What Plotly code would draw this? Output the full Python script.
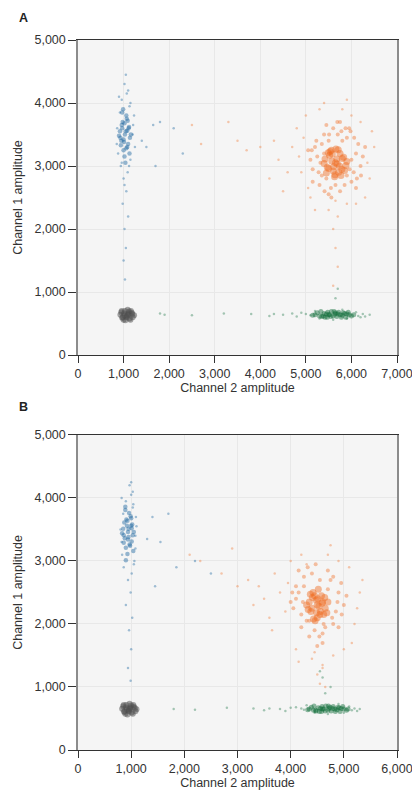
import plotly.graph_objects as go
from plotly.subplots import make_subplots

# ---------------- Panel A data (Channel 2 amplitude, Channel 1 amplitude) ----------------
a_orange_core_x = [5650, 5500, 5800, 5580, 5720, 5420, 5880, 5640, 5560, 5750, 5470, 5830, 5600, 5690, 5770, 5530, 5660, 5900, 5400, 5710, 5610, 5680, 5520, 5790, 5450, 5850, 5570, 5740, 5630, 5490]
a_orange_core_y = [3050, 2960, 3120, 3190, 2900, 3110, 3010, 2860, 3250, 3200, 2980, 3140, 2920, 3030, 2850, 3230, 3270, 3070, 3040, 3260, 2990, 3110, 3170, 2950, 2890, 2930, 3080, 3000, 2830, 3210]
a_orange_mid_x = [5200, 6100, 5300, 6000, 5900, 5400, 5150, 6200, 5750, 5500, 5950, 5350, 6050, 5250, 5850, 5600, 5450, 6150, 5100, 5700, 6250, 5550, 5800, 5350, 6000, 5650, 5400, 5900, 5500, 6100, 5050, 6300, 5750, 5450, 5150, 5980, 5320, 6120, 5870, 5230, 5560, 6060, 5410, 5780, 5960, 5280, 5690, 5130, 6210, 5510]
a_orange_mid_y = [3300, 3200, 2700, 2750, 3450, 3500, 2950, 3000, 2600, 2550, 3600, 3350, 2900, 3150, 2700, 3600, 2800, 3350, 3100, 3500, 3150, 2650, 3400, 2850, 3100, 2700, 3200, 2850, 3400, 2650, 3250, 3300, 3700, 3650, 2750, 3550, 3050, 2800, 3600, 3400, 2500, 3450, 2600, 3550, 2950, 2900, 3700, 3250, 2850, 3500]
a_orange_halo_x = [4700, 4900, 4800, 5000, 5300, 5800, 6200, 6500, 6400, 6300, 5900, 5500, 5100, 4600, 4400, 4300, 5700, 5600, 5650, 5700, 5600, 6000, 4500, 4950, 6350, 5200, 6100, 4200, 3700, 3500, 2700, 2500, 3300, 4000, 5650, 6450, 4850, 5400, 5900, 5050]
a_orange_halo_y = [3300, 2900, 3600, 3800, 3900, 3900, 3700, 3300, 2800, 2500, 2400, 2300, 2500, 2900, 3100, 3400, 2200, 2000, 1700, 1400, 1100, 3800, 2600, 3450, 3050, 2300, 2400, 2800, 3250, 3400, 3350, 3650, 3700, 3300, 2450, 3550, 3150, 4000, 4050, 2650]

a_blue_core_x = [1030, 950, 1110, 980, 1080, 920, 1140, 1000, 1060, 960, 1100, 1020, 990, 1070, 930, 1050, 1160, 970, 1010, 1090, 1040, 900, 1120, 1000, 1060, 940, 1080, 1020, 970, 1130]
a_blue_core_y = [3500, 3400, 3600, 3700, 3300, 3550, 3450, 3250, 3800, 3650, 3350, 3150, 3900, 3750, 3450, 3550, 3500, 3600, 3380, 3720, 3050, 3480, 3620, 3420, 3280, 3330, 3560, 3680, 3850, 3200]
a_blue_halo_x = [1150, 900, 1100, 1020, 1050, 860, 1200, 1230, 880, 1150, 940, 1090, 1000, 1060, 980, 1100, 1020, 1050, 1000, 1030, 1120, 920, 1210, 1130, 960, 1070, 1500, 1800, 1650, 2300, 2100, 1700, 1400, 1020, 960, 850, 1250]
a_blue_halo_y = [4000, 4100, 4200, 4300, 4450, 3600, 3500, 3800, 3200, 3100, 3000, 2900, 2800, 2600, 2400, 2200, 2000, 1700, 1500, 1200, 3000, 3850, 3650, 3950, 4050, 4150, 3300, 3700, 3650, 3200, 3600, 3000, 3400, 2700, 3050, 3350, 3300]

a_gray_x = [1080, 980, 1180, 1030, 1130, 930, 1230, 1000, 1160, 1060, 1110, 950, 1200, 1040, 1090, 1010, 1150, 970, 1070, 1120, 1020, 1190, 960, 1100]
a_gray_y = [635, 600, 670, 700, 580, 640, 630, 560, 700, 610, 660, 680, 600, 550, 720, 660, 560, 590, 600, 690, 630, 650, 700, 640]

a_green_core_x = [5200, 5300, 5400, 5500, 5600, 5700, 5800, 5900, 6000, 5250, 5350, 5450, 5550, 5650, 5750, 5850, 5950, 5150, 6050, 5480, 5620, 5780, 5420, 5680, 5560, 5820, 5380, 5720, 5520, 5640, 5880, 5330, 5930, 5470]
a_green_core_y = [640, 620, 660, 640, 620, 650, 630, 650, 620, 670, 610, 650, 610, 670, 640, 660, 640, 630, 640, 680, 690, 600, 600, 610, 690, 670, 620, 680, 640, 650, 600, 690, 680, 600]
a_green_halo_x = [5000, 5100, 4900, 6150, 6250, 6300, 6400, 4700, 4500, 4300, 4200, 5200, 5800, 5600, 5900, 5300, 6100, 3800, 3200, 2500, 1900, 1800, 4800, 6200, 5650, 5700]
a_green_halo_y = [650, 630, 670, 620, 650, 610, 640, 660, 640, 650, 620, 700, 720, 560, 580, 580, 680, 650, 660, 630, 640, 660, 610, 600, 900, 1050]

# ---------------- Panel B data ----------------
b_orange_core_x = [4500, 4400, 4600, 4450, 4550, 4350, 4650, 4500, 4420, 4580, 4380, 4620, 4480, 4530, 4700, 4300, 4520, 4460, 4560, 4410, 4640, 4490, 4370, 4680, 4430, 4590, 4510, 4330]
b_orange_core_y = [2300, 2250, 2350, 2450, 2150, 2350, 2250, 2100, 2500, 2450, 2200, 2150, 2380, 2280, 2350, 2300, 2550, 2050, 2200, 2420, 2420, 2180, 2470, 2180, 2080, 2330, 2400, 2230]
b_orange_mid_x = [4100, 4900, 4200, 4800, 4750, 4250, 4050, 5000, 4600, 4350, 4700, 4150, 4850, 4100, 4650, 4400, 4300, 4950, 4000, 4550, 5050, 4450, 4600, 4250, 4800, 4500, 4200, 4700, 4350, 4900, 4150, 4780, 4320, 4880, 4470, 4030, 4620, 4230, 4960, 4540]
b_orange_mid_y = [2600, 2500, 1950, 2000, 2700, 2750, 2250, 2300, 1850, 1800, 2850, 2500, 2200, 2400, 1950, 2800, 2050, 2650, 2350, 2700, 2450, 1900, 1700, 2600, 2750, 1650, 2150, 2550, 2050, 1950, 2850, 2100, 2900, 2350, 2950, 2500, 2000, 2350, 2150, 1800]
b_orange_halo_x = [3800, 3900, 3700, 4000, 4200, 4700, 5100, 5300, 5200, 5150, 4800, 4400, 4100, 3600, 3500, 3400, 4600, 4500, 4550, 4650, 4600, 4900, 3650, 3950, 5250, 4150, 5000, 3300, 3000, 2700, 2300, 2100, 2900, 3200, 4450, 5350, 4300, 4750]
b_orange_halo_y = [2500, 2200, 2800, 3000, 3100, 3100, 2900, 2500, 2000, 1700, 1500, 1450, 1600, 2100, 2400, 2600, 1350, 1200, 1050, 1000, 1300, 3000, 1900, 2650, 2250, 1400, 1600, 2300, 2600, 2800, 3000, 3100, 3200, 2700, 1550, 2700, 2950, 3250]

b_blue_core_x = [940, 880, 1000, 910, 970, 850, 1030, 900, 960, 870, 1010, 930, 890, 990, 860, 950, 1050, 920, 940, 1000, 900, 830, 1020, 950, 980, 860, 1010, 930, 890, 1040]
b_blue_core_y = [3460, 3360, 3560, 3660, 3260, 3510, 3410, 3210, 3760, 3610, 3310, 3110, 3860, 3710, 3410, 3510, 3460, 3560, 3340, 3680, 3010, 3440, 3580, 3380, 3240, 3290, 3520, 3640, 3810, 3160]
b_blue_halo_x = [1040, 820, 1030, 970, 1000, 800, 1080, 1090, 830, 1060, 860, 1010, 940, 990, 900, 1020, 960, 1000, 940, 990, 1050, 850, 1100, 1030, 900, 1000, 1400, 1700, 1550, 2200, 1850, 1300, 1450, 2500, 1080, 820]
b_blue_halo_y = [3900, 4000, 4100, 4200, 4250, 3500, 3400, 3700, 3100, 3000, 2900, 2800, 2700, 2500, 2300, 2100, 1900, 1600, 1300, 1100, 2950, 3750, 3550, 3850, 3950, 4050, 3700, 3750, 3300, 3000, 2900, 3350, 2600, 2800, 3200, 3300]

b_gray_x = [960, 870, 1050, 910, 1010, 830, 1100, 890, 1040, 950, 990, 850, 1080, 930, 970, 900, 1030, 870, 960, 1000, 920, 1070, 860, 980]
b_gray_y = [650, 615, 685, 715, 595, 655, 645, 575, 715, 625, 675, 695, 615, 565, 735, 675, 575, 605, 615, 705, 645, 665, 715, 655]

b_green_core_x = [4350, 4430, 4520, 4600, 4700, 4790, 4870, 4950, 5050, 4390, 4480, 4560, 4650, 4740, 4830, 4910, 5000, 4320, 5080, 4590, 4710, 4840, 4540, 4760, 4660, 4890, 4470, 4800, 4620, 4720, 4930, 4440, 4980, 4580]
b_green_core_y = [650, 630, 670, 650, 630, 660, 640, 660, 630, 680, 620, 660, 620, 680, 650, 670, 650, 640, 650, 690, 700, 610, 610, 620, 700, 680, 630, 690, 650, 660, 610, 700, 690, 610]
b_green_halo_x = [4200, 4250, 4100, 5150, 5200, 5250, 5300, 4000, 3800, 3600, 3500, 4300, 4900, 4700, 5000, 4450, 5100, 3300, 2800, 2200, 1800, 3900, 4650, 4750, 4600, 4550]
b_green_halo_y = [660, 640, 680, 630, 660, 620, 650, 670, 650, 660, 630, 710, 730, 570, 590, 590, 690, 660, 670, 640, 650, 620, 900, 1000, 1150, 1250]

x_ticks_a = [0, 1000, 2000, 3000, 4000, 5000, 6000, 7000]
x_ticks_b = [0, 1000, 2000, 3000, 4000, 5000, 6000]
y_ticks = [0, 1000, 2000, 3000, 4000, 5000]

ORANGE = "#f06a1e"
BLUE = "#1c67a0"
GREEN = "#0a6a36"
GRAY = "#505050"

fig = make_subplots(rows=2, cols=1, vertical_spacing=0.1126)


def add_cluster(x, y, color, size, opacity, row):
    fig.add_trace(go.Scatter(x=x, y=y, mode="markers", showlegend=False, hoverinfo="skip",
                             marker=dict(color=color, size=size, opacity=opacity, line=dict(width=0))),
                  row=row, col=1)


for row, d in ((1, "a"), (2, "b")):
    g = globals()
    add_cluster(g[d + "_orange_halo_x"], g[d + "_orange_halo_y"], ORANGE, 2.5, 0.35, row)
    add_cluster(g[d + "_orange_mid_x"], g[d + "_orange_mid_y"], ORANGE, 4, 0.4, row)
    add_cluster(g[d + "_orange_core_x"], g[d + "_orange_core_y"], ORANGE, 7, 0.45, row)
    add_cluster(g[d + "_blue_halo_x"], g[d + "_blue_halo_y"], BLUE, 2.5, 0.4, row)
    add_cluster(g[d + "_blue_core_x"], g[d + "_blue_core_y"], BLUE, 4.5, 0.45, row)
    add_cluster(g[d + "_gray_x"], g[d + "_gray_y"], GRAY, 6, 0.5, row)
    add_cluster(g[d + "_green_halo_x"], g[d + "_green_halo_y"], GREEN, 2.5, 0.35, row)
    add_cluster(g[d + "_green_core_x"], g[d + "_green_core_y"], GREEN, 5, 0.45, row)

FAM = "Liberation Sans, Arial, sans-serif"
font = dict(family=FAM, size=12.5, color="#333333")

common_x = dict(showline=True, linecolor="#333333", linewidth=1, mirror=True,
                ticks="outside", ticklen=7, tickcolor="#333333",
                showgrid=True, gridcolor="#e8e8e8", gridwidth=1, zeroline=False,
                tickformat=",", title=dict(text="Channel 2 amplitude", font=font, standoff=3),
                tickfont=font, automargin=False)
common_y = dict(showline=True, linecolor="#8c8c8c", linewidth=1.5, mirror=True,
                ticks="outside", ticklen=8, tickcolor="#333333",
                showgrid=True, gridcolor="#e8e8e8", gridwidth=1, zeroline=False,
                tickformat=",", title=dict(text="Channel 1 amplitude", font=font, standoff=9),
                tickfont=font, range=[0, 5000], tickvals=y_ticks, automargin=False)

fig.update_xaxes(**common_x, range=[0, 7000], tickvals=x_ticks_a, row=1, col=1)
fig.update_xaxes(**common_x, range=[0, 6000], tickvals=x_ticks_b, row=2, col=1)
fig.update_yaxes(**common_y, row=1, col=1)
fig.update_yaxes(**common_y, row=2, col=1)

fig.update_layout(
    width=420, height=800,
    margin=dict(l=70, r=31, t=32, b=58),
    paper_bgcolor="white", plot_bgcolor="#f5f5f5",
    font=font,
    annotations=[
        dict(text="<b>A</b>", xref="paper", yref="paper", x=-0.19, y=1.0437,
             xanchor="left", yanchor="top", showarrow=False,
             font=dict(family=FAM, size=12.5, color="#222222")),
        dict(text="<b>B</b>", xref="paper", yref="paper", x=-0.19, y=0.4955,
             xanchor="left", yanchor="top", showarrow=False,
             font=dict(family=FAM, size=12.5, color="#222222")),
    ],
)

fig.write_html("out.html")
